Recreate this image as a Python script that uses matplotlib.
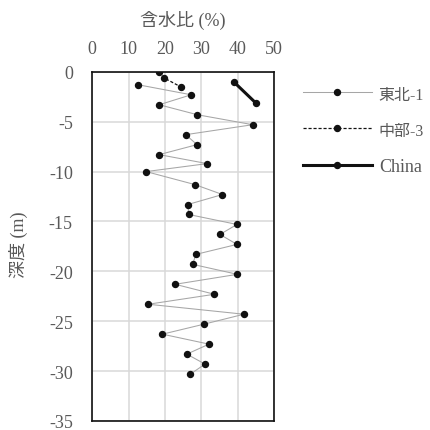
import numpy as np
import matplotlib
matplotlib.use('Agg')
import matplotlib.pyplot as plt

plt.rcParams['font.family'] = ['Liberation Serif', 'Noto Sans CJK JP']
plt.rcParams['axes.unicode_minus'] = False

# data
tohoku_x = [12.7, 27.2, 18.4, 28.9, 44.1, 25.7, 28.8, 18.4, 31.6, 14.8,
            28.2, 35.8, 26.3, 26.5, 39.8, 35.1, 39.8, 28.5, 27.6, 39.9,
            22.8, 33.6, 15.4, 41.7, 30.7, 19.3, 32.1, 26.0, 31.0, 27.0]
tohoku_y = [-1.3, -2.3, -3.3, -4.3, -5.3, -6.3, -7.3, -8.3, -9.2, -10.0,
            -11.3, -12.3, -13.3, -14.3, -15.3, -16.3, -17.3, -18.3, -19.3, -20.3,
            -21.3, -22.3, -23.3, -24.3, -25.3, -26.3, -27.3, -28.3, -29.3, -30.3]
chubu_x = [18.4, 19.7, 24.3]
chubu_y = [0.0, -0.6, -1.5]
china_x = [38.9, 44.9]
china_y = [-1.0, -3.1]

xticks = [0, 10, 20, 30, 40, 50]
yticks = [0, -5, -10, -15, -20, -25, -30, -35]

grey = '#595959'
fs = 13

fig = plt.figure(figsize=(4.31, 4.31), dpi=100)
ax = fig.add_axes([0.214, 0.021, 0.422, 0.810])

ax.plot(tohoku_x, tohoku_y, color='#a6a6a6', lw=0.75, marker='o', ms=4.3,
        mfc='#111111', mec='#111111', label='東北-1', zorder=3)
ax.plot(chubu_x, chubu_y, color='#111111', lw=0.9, ls=(0, (2.5, 1.5)), marker='o', ms=4.3,
        mfc='#111111', mec='#111111', label='中部-3', zorder=3)
ax.plot(china_x, china_y, color='#111111', lw=2.2, marker='o', ms=4.3,
        mfc='#111111', mec='#111111', label='China', zorder=3)

ax.set_xlim(0, 50)
ax.set_ylim(-35, 0)
ax.set_xticks(xticks)
ax.set_yticks(yticks)
ax.xaxis.tick_top()
ax.tick_params(axis='both', length=0, labelsize=fs, labelcolor=grey)
ax.tick_params(axis='x', pad=11)
ax.tick_params(axis='y', pad=14)
ax.grid(True, color='#d9d9d9', lw=1.1, zorder=0)
ax.set_axisbelow(True)
for s in ax.spines.values():
    s.set_linewidth(1.2)
    s.set_color('#111111')

fig.text(183/431, 1-20/431, '含水比 (%)', ha='center', va='center', fontsize=fs, color=grey)
fig.text(18/431, 1-245/431, '深度 (m)', ha='center', va='center', fontsize=fs,
         color=grey, rotation=90)

leg = fig.legend(loc='upper left', bbox_to_anchor=(303/431, 1-87/431), frameon=False,
                 handlelength=3.8, labelspacing=1.08, borderpad=0, borderaxespad=0,
                 handletextpad=0.4, fontsize=fs)
for t in leg.get_texts():
    t.set_color(grey)
    # the CJK glyphs are wider than the serif ones, keep the labels compact
    if t.get_text() != 'China':
        t.set_fontsize(11.5)

plt.savefig('out.png', dpi=100)
